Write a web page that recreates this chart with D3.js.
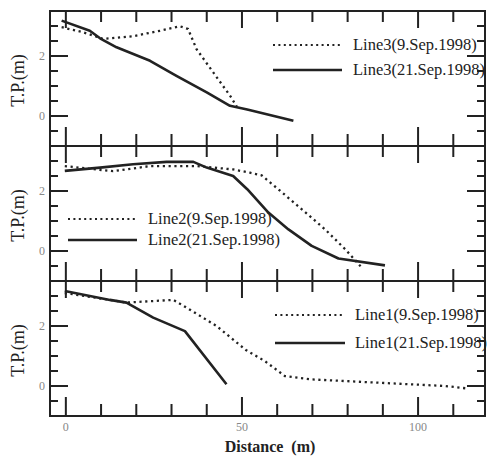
<!DOCTYPE html>
<html><head><meta charset="utf-8">
<script src="https://cdn.jsdelivr.net/npm/d3@7"></script>
</head><body style="margin:0">
<svg id="c" width="495" height="456"></svg>
<script>
const line3Sep09 = [[-1.2,2.96],[4.9,2.79],[10.6,2.57],[19.1,2.66],[26.7,2.84],[32.4,2.99],[34.7,2.9],[37.1,2.23],[41.8,1.46],[46.6,0.68],[48.5,0.32]];
const line3Sep21 = [[-1.2,3.18],[6.8,2.84],[9.7,2.59],[14.4,2.29],[23.9,1.84],[31.4,1.34],[40,0.79],[46.6,0.34],[51.5,0.22],[64.6,-0.16]];
const line2Sep09 = [[-0.3,2.83],[13.4,2.66],[23.9,2.83],[37.1,2.83],[47.5,2.72],[52.3,2.61],[55.6,2.52],[60.3,2.06],[67,1.39],[73.6,0.72],[79.3,0.06],[84,-0.55]];
const line2Sep21 = [[-0.3,2.67],[9.7,2.78],[19.1,2.89],[28.6,2.97],[36.2,2.97],[40,2.78],[47.5,2.5],[51.5,2.06],[57.5,1.28],[63.2,0.72],[69.8,0.17],[77.4,-0.25],[90.6,-0.48]];
const line1Sep09 = [[-0.3,3.1],[12.5,2.87],[17.2,2.78],[30.5,2.87],[34.3,2.61],[42.8,2.0],[51.1,1.2],[56.5,0.83],[62.2,0.33],[69.8,0.22],[88.7,0.11],[107.7,0.0],[113.8,-0.08]];
const line1Sep21 = [[-0.3,3.17],[12.5,2.87],[17.2,2.78],[24.8,2.28],[33.8,1.83],[45.6,0.06]];
const panelLabels = [["Line3(9.Sep.1998)","Line3(21.Sep.1998)"],["Line2(9.Sep.1998)","Line2(21.Sep.1998)"],["Line1(9.Sep.1998)","Line1(21.Sep.1998)"]];
const xMajorTicks = [0,50,100];
const xMinorTicks = [10,20,30,40,60,70,80,90,110];
const yMajorTicks = [0,2];
const yMinorTicks = [-0.5,0.5,1,1.5,2.5,3];
const xTitle = "Distance  (m)";
const yTitle = "T.P.(m)";

const svg = d3.select("#c");
const L = 50, R = 485, panelH = 135, tops = [11,146,281];
const xs = d3.scaleLinear().domain([-4.5,119]).range([L,R]);
const ink = "#222";
const serif = "Liberation Serif";
const panels = [
  {s09: line3Sep09, s21: line3Sep21, leg: {x1:273, x2:342, tx:353, y1:45, y2:70}},
  {s09: line2Sep09, s21: line2Sep21, leg: {x1:68, x2:137, tx:148, y1:219, y2:240}},
  {s09: line1Sep09, s21: line1Sep21, leg: {x1:275, x2:345, tx:355, y1:315, y2:343}}
];
const yScales = tops.map(function(t){ return d3.scaleLinear().domain([-1,3.5]).range([t+panelH, t]); });

panels.forEach(function(p, i) {
  const top = tops[i], bot = top + panelH;
  const ys = yScales[i];
  svg.append("rect").attr("x",L).attr("y",top).attr("width",R-L).attr("height",panelH)
    .attr("fill","none").attr("stroke",ink).attr("stroke-width",2);
  yMajorTicks.forEach(function(v) {
    svg.append("text").attr("x",42).attr("y",ys(v)+4).attr("text-anchor","middle")
      .attr("font-family",serif).attr("font-size",12).attr("fill","#888").text(String(v));
  });
  const lg = d3.line().x(function(d){return xs(d[0]);}).y(function(d){return ys(d[1]);});
  svg.append("path").attr("d", lg(p.s09)).attr("fill","none").attr("stroke",ink)
    .attr("stroke-width",2.3).attr("stroke-dasharray","2.2,3.6");
  svg.append("path").attr("d", lg(p.s21)).attr("fill","none").attr("stroke",ink)
    .attr("stroke-width",2.6).attr("stroke-linejoin","round");
  const lgd = p.leg;
  svg.append("line").attr("x1",lgd.x1).attr("x2",lgd.x2).attr("y1",lgd.y1).attr("y2",lgd.y1)
    .attr("stroke",ink).attr("stroke-width",2).attr("stroke-dasharray","2,3.4");
  svg.append("line").attr("x1",lgd.x1).attr("x2",lgd.x2).attr("y1",lgd.y2).attr("y2",lgd.y2)
    .attr("stroke",ink).attr("stroke-width",2.4);
  svg.append("text").attr("x",lgd.tx).attr("y",lgd.y1+5).attr("font-family",serif)
    .attr("font-size",16.5).attr("fill",ink).text(panelLabels[i][0]);
  svg.append("text").attr("x",lgd.tx).attr("y",lgd.y2+5).attr("font-family",serif)
    .attr("font-size",16.5).attr("fill",ink).text(panelLabels[i][1]);
  svg.append("text").attr("transform","translate(24," + (top+panelH/2+2) + ") rotate(-90)")
    .attr("text-anchor","middle").attr("font-family",serif)
    .attr("font-size",18).attr("fill",ink).text(yTitle);
});

// tick marks, drawn last as one path per panel
tops.forEach(function(top, i) {
  const ys = yScales[i], bot = top + panelH;
  const pth = d3.path();
  yMajorTicks.concat(yMinorTicks).forEach(function(v) {
    const len = yMajorTicks.indexOf(v) >= 0 ? 18 : 8;
    pth.moveTo(L, ys(v)); pth.lineTo(L + len, ys(v));
    pth.moveTo(R, ys(v)); pth.lineTo(R - len, ys(v));
  });
  xMajorTicks.concat(xMinorTicks).forEach(function(v) {
    const major = xMajorTicks.indexOf(v) >= 0;
    pth.moveTo(xs(v), top); pth.lineTo(xs(v), top + (major ? 17 : 11));
    pth.moveTo(xs(v), bot); pth.lineTo(xs(v), bot - (major ? 19 : 12));
  });
  svg.append("path").attr("d", pth.toString()).attr("fill","none")
    .attr("stroke", ink).attr("stroke-width", 2);
});

xMajorTicks.forEach(function(v) {
  svg.append("text").attr("x",xs(v)).attr("y",431).attr("text-anchor","middle")
    .attr("font-family",serif).attr("font-size",12).attr("fill","#888").text(String(v));
});
svg.append("text").attr("x",270).attr("y",452).attr("text-anchor","middle")
  .attr("font-family",serif).attr("font-size",16).attr("font-weight","bold")
  .attr("fill",ink).attr("xml:space","preserve").text(xTitle);
</script>
</body></html>
